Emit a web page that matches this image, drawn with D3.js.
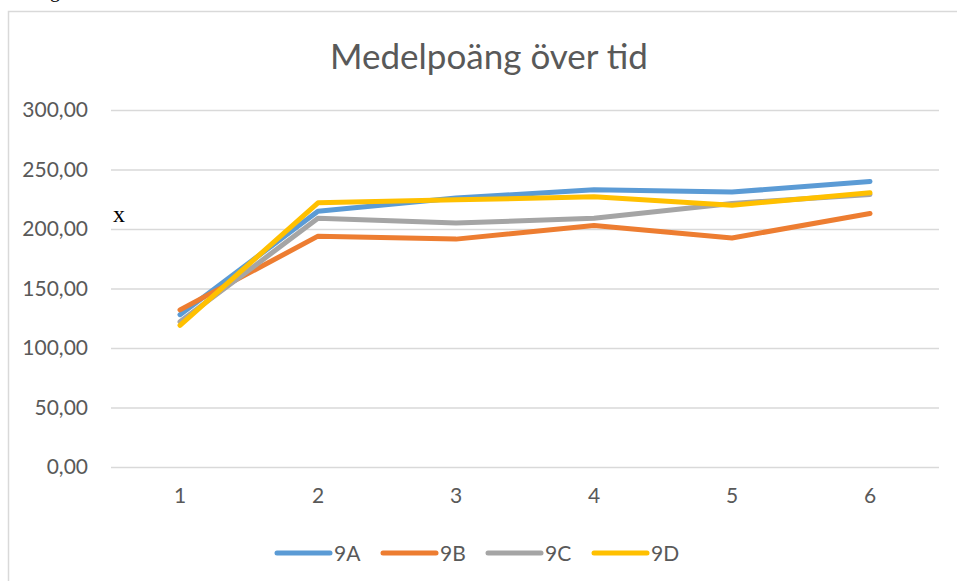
<!DOCTYPE html>
<html><head><meta charset="utf-8">
<script src="https://cdn.jsdelivr.net/npm/d3@7"></script>
<style>body{margin:0;background:#fff;}svg{display:block;}</style>
</head><body>
<script>
const categories = ["1","2","3","4","5","6"];
const seriesNames = ["9A","9B","9C","9D"];
const values9A = [128,215,226,233,231,240];
const values9B = [132,194,191.5,203,192.5,213];
const values9C = [122,209,205,209,221.5,229];
const values9D = [119,222,224.5,227,220,230.5];
const colors = ["#5B9BD5","#ED7D31","#A5A5A5","#FFC000"];
const yTicks = [0,50,100,150,200,250,300];
const title = "Medelpoäng över tid";

const W = 957, H = 581;
const svg = d3.select("body").append("svg").attr("width",W).attr("height",H);
const font = "Lato, 'Open Sans', sans-serif";

// outer frame
svg.append("rect").attr("x",8.5).attr("y",11.5).attr("width",W+20).attr("height",H+20)
  .attr("fill","none").attr("stroke","#d9d9d9").attr("stroke-width",1.5);
// caption text above frame (mostly outside the picture, as in the reference)
svg.append("text").attr("x",21).attr("y",-3).attr("font-family","'Liberation Serif', serif")
  .attr("font-size",20).attr("fill","#000").text("Diagram");

const x = d3.scaleBand().domain(categories).range([111,939]);
const y = d3.scaleLinear().domain([0,300]).range([467,110]);

svg.append("text").attr("x",489).attr("y",69).attr("text-anchor","middle")
  .attr("font-family",font).attr("font-size",35).attr("fill","#595959").text(title);

// gridlines
const yAxis = d3.axisLeft(y).tickValues(yTicks).tickSize(-(939-111)).tickPadding(23)
  .tickFormat(d => d3.format(".2f")(d).replace(".", ","));
const gy = svg.append("g").attr("transform","translate(111,0)").call(yAxis);
gy.select(".domain").remove();
gy.selectAll(".tick line").attr("stroke","#d9d9d9").attr("stroke-width",1.5);
gy.selectAll(".tick text").attr("font-family",font).attr("font-size",21).attr("fill","#595959");

const xAxis = d3.axisBottom(x).tickSize(0).tickPadding(21);
const gx = svg.append("g").attr("transform","translate(0,467)").call(xAxis);
gx.select(".domain").remove();
gx.selectAll(".tick text").attr("font-family",font).attr("font-size",21).attr("fill","#595959");

const allValues = [values9A, values9B, values9C, values9D];
const line = d3.line().x((d,i)=>x(categories[i])+x.bandwidth()/2).y(d=>y(d));
allValues.forEach((vals,k)=>{
  svg.append("path").datum(vals).attr("d",line).attr("fill","none")
    .attr("stroke",colors[k]).attr("stroke-width",5).attr("stroke-linecap","round").attr("stroke-linejoin","round");
});

// serif x mark
svg.append("text").attr("x",113).attr("y",222).attr("font-family","'Liberation Serif', serif")
  .attr("font-size",24).attr("fill","#000").text("x");

// legend
const legendX = [277,383,488,594];
seriesNames.forEach((n,k)=>{
  const g = svg.append("g").attr("transform",`translate(${legendX[k]},553)`);
  g.append("line").attr("x1",0).attr("x2",53).attr("stroke",colors[k]).attr("stroke-width",5).attr("stroke-linecap","round");
  g.append("text").attr("x",57).attr("y",8).attr("font-family",font).attr("font-size",21).attr("fill","#595959").text(n);
});
</script>
</body></html>
